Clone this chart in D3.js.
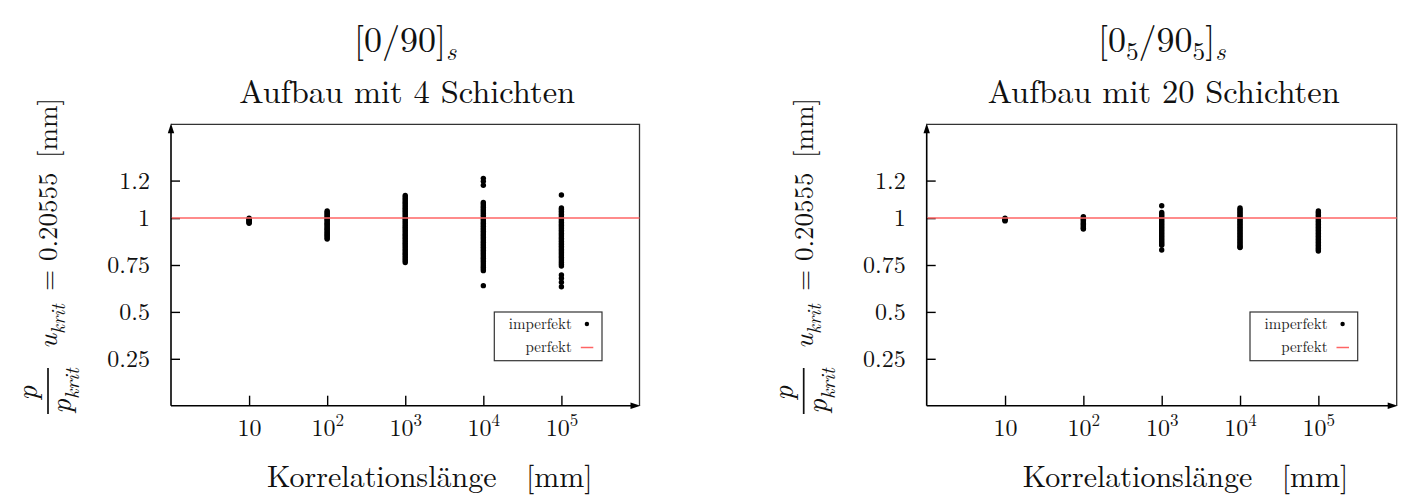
<!DOCTYPE html>
<html>
<head>
<meta charset="utf-8">
<script src="https://cdn.jsdelivr.net/npm/d3@7"></script>
<style>
  body { margin: 0; background: #fff; }
  svg { display: block; font-family: "Latin Modern Roman", "CMU Serif", "Liberation Serif", serif; }
</style>
</head>
<body>
<svg id="chart" width="1416" height="496"></svg>
<script>
// ---- data -------------------------------------------------------------
// correlation lengths (mm) at which the samples were computed
var lengths = [10, 100, 1000, 10000, 100000];

// p / p_krit of the imperfect shells, one array per correlation length
var imperfekt4 = [
  [1.000, 0.996, 0.992, 0.988, 0.984, 0.980, 0.976, 0.972],
  [1.038, 1.032, 1.025, 1.018, 1.012, 1.005, 0.999, 0.992, 0.986, 0.979, 0.972, 0.966,
   0.959, 0.953, 0.946, 0.940, 0.933, 0.926, 0.920, 0.913, 0.907, 0.900, 0.894, 0.888],
  [1.121, 1.113, 1.104, 1.096, 1.087, 1.079, 1.070, 1.062, 1.053, 1.045, 1.036, 1.028,
   1.019, 1.011, 1.002, 0.994, 0.985, 0.977, 0.968, 0.960, 0.951, 0.943, 0.934, 0.926,
   0.917, 0.909, 0.900, 0.892, 0.883, 0.875, 0.866, 0.858, 0.849, 0.841, 0.832, 0.824,
   0.815, 0.807, 0.798, 0.790, 0.781, 0.772, 0.763],
  [1.212, 1.196, 1.175,
   1.083, 1.075, 1.066, 1.058, 1.049, 1.041, 1.032, 1.024, 1.015, 1.007, 0.998, 0.990,
   0.981, 0.973, 0.964, 0.956, 0.947, 0.939, 0.930, 0.922, 0.913, 0.905, 0.896, 0.888,
   0.879, 0.871, 0.862, 0.854, 0.845, 0.837, 0.828, 0.820, 0.811, 0.803, 0.794, 0.786,
   0.777, 0.768, 0.758, 0.748, 0.738, 0.729, 0.720,
   0.640],
  [1.123,
   1.054, 1.046, 1.037, 1.029, 1.020, 1.012, 1.003, 0.995, 0.986, 0.978, 0.969, 0.961,
   0.952, 0.944, 0.935, 0.927, 0.918, 0.910, 0.901, 0.893, 0.884, 0.876, 0.867, 0.859,
   0.850, 0.842, 0.833, 0.825, 0.816, 0.808, 0.799, 0.791, 0.782, 0.772, 0.763, 0.754,
   0.745,
   0.697, 0.679, 0.658, 0.634]
];

var imperfekt20 = [
  [1.000, 0.996, 0.992, 0.988, 0.985],
  [1.008, 1.001, 0.994, 0.987, 0.980, 0.973, 0.966, 0.959, 0.952, 0.946, 0.942],
  [1.066,
   1.030, 1.022, 1.014, 1.006, 0.998, 0.990, 0.982, 0.974, 0.966, 0.958, 0.950, 0.942,
   0.934, 0.926, 0.918, 0.910, 0.902, 0.894, 0.886, 0.878, 0.870, 0.862, 0.855,
   0.830],
  [1.054, 1.046, 1.038, 1.030, 1.022, 1.014, 1.006, 0.998, 0.990, 0.982, 0.974, 0.966,
   0.958, 0.950, 0.942, 0.934, 0.926, 0.918, 0.910, 0.902, 0.894, 0.886, 0.878, 0.870,
   0.862, 0.854, 0.846, 0.843],
  [1.038, 1.030, 1.022, 1.014, 1.006, 0.998, 0.990, 0.982, 0.974, 0.966, 0.958, 0.950,
   0.942, 0.934, 0.926, 0.918, 0.910, 0.902, 0.894, 0.886, 0.878, 0.870, 0.862, 0.854,
   0.846, 0.838, 0.830, 0.825]
];

// the perfect shell buckles at exactly p / p_krit = 1
var perfekt = [1];

var yTicks = [0.25, 0.5, 0.75, 1, 1.2];
var xTicks = [10, 100, 1000, 10000, 100000];
var legendLabels = ["imperfekt", "perfekt"];

// ---- helpers ----------------------------------------------------------
var svg = d3.select("#chart");

// append runs of text; run.sub / run.sup shift the baseline, run.it sets italic
function rich(text, runs, size, subShift) {
  var shift = 0;
  var down = subShift || 0.28;
  runs.forEach(function(r) {
    var target = r.sub ? size * down : (r.sup ? -size * 0.4 : 0);
    var ts = text.append("tspan")
      .attr("dy", target - shift)
      .text(r.t);
    if (r.sub || r.sup) ts.attr("font-size", size * 0.7);
    if (r.it) ts.attr("font-style", "italic");
    shift = target;
  });
  return text;
}

// ---- one panel --------------------------------------------------------
function drawPanel(cfg) {
  var x0 = cfg.x0, x1 = cfg.x1, top = 124.3, bottom = 405.7;

  var x = d3.scaleLog().domain([1, 1e6]).range([x0, x1]);
  var y = d3.scaleLinear().domain([0, 1.5]).range([bottom, top]);

  var g = svg.append("g").attr("fill", "#111");

  // frame (top + right) in dark grey
  g.append("path")
    .attr("d", "M" + x0 + "," + top + "H" + x1 + "V" + bottom)
    .attr("fill", "none")
    .attr("stroke", "#333")
    .attr("stroke-width", 1.3);

  // y axis
  var yAxis = g.append("g")
    .attr("transform", "translate(" + x0 + ",0)")
    .call(d3.axisLeft(y).tickValues(yTicks).tickSize(-9).tickPadding(21)
      .tickFormat(function(d) { return String(d); }))
    .attr("font-family", null)
    .attr("font-size", 24);
  yAxis.select(".domain").remove();
  yAxis.selectAll(".tick line").attr("stroke", "#000").attr("stroke-width", 1.4);
  yAxis.selectAll(".tick text").attr("fill", "#111");

  // x axis
  var xAxis = g.append("g")
    .attr("transform", "translate(0," + bottom + ")")
    .call(d3.axisBottom(x).tickValues(xTicks).tickSize(-10).tickPadding(13))
    .attr("font-family", null)
    .attr("font-size", 24);
  xAxis.select(".domain").remove();
  xAxis.selectAll(".tick line").attr("stroke", "#000").attr("stroke-width", 1.4);
  xAxis.selectAll(".tick text")
    .attr("fill", "#111")
    .each(function(d) {
      var t = d3.select(this).text(null);
      var e = Math.round(Math.log10(d));
      t.append("tspan").text("10");
      if (e > 1) t.append("tspan").attr("dy", -10).attr("font-size", 17).text(e);
    });

  // axis lines with arrows
  g.append("line")
    .attr("x1", x0).attr("y1", bottom).attr("x2", x0).attr("y2", top + 4)
    .attr("stroke", "#000").attr("stroke-width", 1.6);
  g.append("line")
    .attr("x1", x0).attr("y1", bottom).attr("x2", x1 - 4).attr("y2", bottom)
    .attr("stroke", "#000").attr("stroke-width", 1.6);
  g.append("path")
    .attr("d", "M" + x0 + "," + (top - 1) + "L" + (x0 - 3.2) + "," + (top + 9) + "L" + (x0 + 3.2) + "," + (top + 9) + "Z")
    .attr("fill", "#000");
  g.append("path")
    .attr("d", "M" + (x1 + 1) + "," + bottom + "L" + (x1 - 9) + "," + (bottom - 3.2) + "L" + (x1 - 9) + "," + (bottom + 3.2) + "Z")
    .attr("fill", "#000");

  // imperfect results
  var pts = [];
  cfg.values.forEach(function(col, i) {
    col.forEach(function(v) { pts.push({ l: lengths[i], v: v }); });
  });
  g.append("g").selectAll("circle")
    .data(pts)
    .join("circle")
    .attr("cx", function(d) { return x(d.l); })
    .attr("cy", function(d) { return y(d.v); })
    .attr("r", 2.7)
    .attr("fill", "#000");

  // perfect reference line
  g.selectAll(".perfekt")
    .data(perfekt)
    .join("line")
    .attr("class", "perfekt")
    .attr("x1", x0 + 0.8).attr("x2", x1)
    .attr("y1", function(d) { return y(d); })
    .attr("y2", function(d) { return y(d); })
    .attr("stroke", "#ff6464")
    .attr("stroke-width", 1.5);

  // legend
  var lg = g.append("g").attr("transform", "translate(" + (x0 + 323.3) + ",312)");
  lg.append("rect")
    .attr("width", 107.7).attr("height", 48.7)
    .attr("fill", "#fff").attr("stroke", "#333").attr("stroke-width", 1.2);
  lg.selectAll("text")
    .data(legendLabels)
    .join("text")
    .attr("x", 77.5)
    .attr("y", function(d, i) { return 16.5 + i * 23.5; })
    .attr("text-anchor", "end")
    .attr("font-size", 15)
    .attr("fill", "#222")
    .text(function(d) { return d; });
  lg.append("circle").attr("cx", 92.6).attr("cy", 12).attr("r", 2.2).attr("fill", "#000");
  lg.append("line")
    .attr("x1", 86.5).attr("x2", 99).attr("y1", 35.5).attr("y2", 35.5)
    .attr("stroke", "#ff6464").attr("stroke-width", 1.5);

  // titles
  var cx = (x0 + x1) / 2;
  rich(g.append("text").attr("x", cx).attr("y", 52).attr("text-anchor", "middle")
    .attr("font-size", 36), cfg.title, 36, 0.22);
  g.append("text").attr("x", cx + 2).attr("y", 103).attr("text-anchor", "middle")
    .attr("font-size", 32.5).text(cfg.subtitle);

  // x label
  g.append("text").attr("x", x0 + 96).attr("y", 487)
    .attr("font-size", 30).text("Korrelationslänge");
  g.append("text").attr("x", x0 + 355).attr("y", 487)
    .attr("font-size", 30).text("[mm]");

  // y label, rotated
  var yl = g.append("g")
    .attr("transform", "translate(" + (x0 - 171) + ",415) rotate(-90)");
  yl.append("text").attr("x", 22).attr("y", 37).attr("text-anchor", "middle")
    .attr("font-size", 29).attr("font-style", "italic").text("p");
  yl.append("line").attr("x1", 1).attr("x2", 47).attr("y1", 48).attr("y2", 48)
    .attr("stroke", "#111").attr("stroke-width", 1.7);
  rich(yl.append("text").attr("x", 24).attr("y", 71).attr("text-anchor", "middle")
    .attr("font-size", 29), [{ t: "p", it: true }, { t: "krit", it: true, sub: true }], 29);
  rich(yl.append("text").attr("x", 66).attr("y", 57).attr("font-size", 28),
    [{ t: "u", it: true }, { t: "krit", it: true, sub: true }], 28);
  yl.append("text").attr("x", 124).attr("y", 57).attr("font-size", 27).text("= 0.20555");
  yl.append("text").attr("x", 257).attr("y", 57).attr("font-size", 27).text("[mm]");
}

drawPanel({
  x0: 171, x1: 639.5,
  values: imperfekt4,
  title: [{ t: "[0/90]" }, { t: "s", it: true, sub: true }],
  subtitle: "Aufbau mit 4 Schichten"
});

drawPanel({
  x0: 926.7, x1: 1396.7,
  values: imperfekt20,
  title: [{ t: "[0" }, { t: "5", sub: true }, { t: "/90" }, { t: "5", sub: true }, { t: "]" }, { t: "s", it: true, sub: true }],
  subtitle: "Aufbau mit 20 Schichten"
});
</script>
</body>
</html>
